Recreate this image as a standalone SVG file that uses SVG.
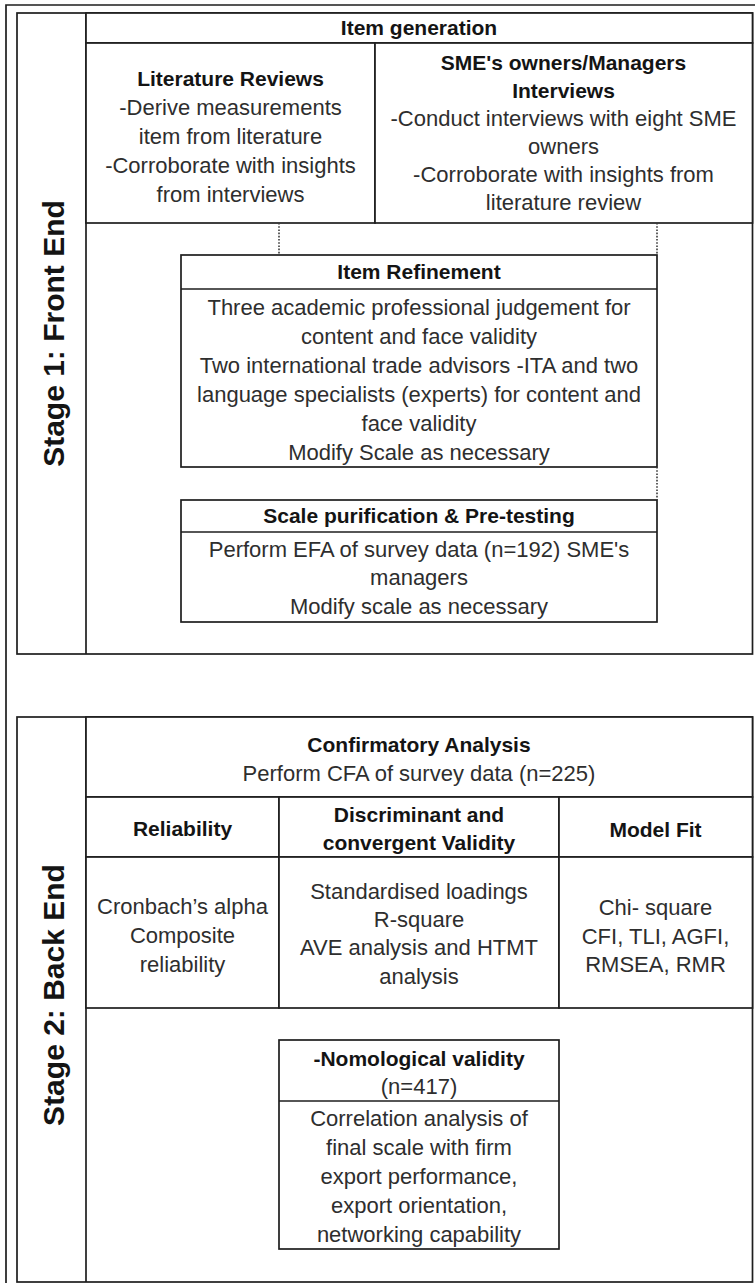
<svg xmlns="http://www.w3.org/2000/svg" width="755" height="1283" viewBox="0 0 755 1283">
<defs>
<style>
.bx{fill:#fff;stroke:#1e1e1e;stroke-width:1.7}
.ln{fill:none;stroke:#1e1e1e;stroke-width:1.7}
.dot{fill:none;stroke:#3a3a3a;stroke-width:1.6;stroke-dasharray:1.6 1.6}
text{font-family:"Liberation Sans",Arial,sans-serif;font-size:22px;fill:#2e2e2e;text-anchor:middle}
.b{font-weight:bold;font-size:21px;fill:#141414}
.stg{font-weight:bold;font-size:30px;fill:#141414}
</style>
</defs>
<rect width="755" height="1283" fill="#fff"/>
<path class="ln" d="M6,1283 V5 H755"/>

<g id="stage1">
<rect class="bx" x="17" y="13" width="735.5" height="641"/>
<line class="ln" x1="86" y1="13" x2="86" y2="654"/>
<text class="stg" transform="translate(64,333.5) rotate(-90)">Stage 1: Front End</text>
</g>

<g id="item-generation">
<rect class="bx" x="86" y="13" width="666.5" height="30"/>
<text class="b" x="419" y="35">Item generation</text>
</g>

<g id="literature-reviews">
<rect class="bx" x="86" y="43" width="289" height="180"/>
<text class="b" x="230.5" y="86">Literature Reviews</text>
<text x="230.5" y="115">-Derive measurements</text>
<text x="230.5" y="144">item from literature</text>
<text x="230.5" y="173">-Corroborate with insights</text>
<text x="230.5" y="202">from interviews</text>
</g>

<g id="sme-interviews">
<rect class="bx" x="375" y="43" width="377.5" height="180"/>
<text class="b" x="563.5" y="70">SME's owners/Managers</text>
<text class="b" x="563.5" y="98">Interviews</text>
<text x="563.5" y="126">-Conduct interviews with eight SME</text>
<text x="563.5" y="154">owners</text>
<text x="563.5" y="182">-Corroborate with insights from</text>
<text x="563.5" y="210">literature review</text>
</g>

<g id="item-refinement">
<rect class="bx" x="181" y="255" width="476" height="212"/>
<line class="ln" x1="181" y1="289" x2="657" y2="289"/>
<text class="b" x="419" y="279">Item Refinement</text>
<text x="419" y="315">Three academic professional judgement for</text>
<text x="419" y="344">content and face validity</text>
<text x="419" y="373">Two international trade advisors -ITA and two</text>
<text x="419" y="402">language specialists (experts) for content and</text>
<text x="419" y="431">face validity</text>
<text x="419" y="460">Modify Scale as necessary</text>
</g>

<g id="scale-purification">
<rect class="bx" x="181" y="500" width="476" height="122"/>
<line class="ln" x1="181" y1="532" x2="657" y2="532"/>
<text class="b" x="419" y="523">Scale purification &amp; Pre-testing</text>
<text x="419" y="557">Perform EFA of survey data (n=192) SME's</text>
<text x="419" y="585">managers</text>
<text x="419" y="614">Modify scale as necessary</text>
</g>

<g id="connectors">
<line class="dot" x1="279" y1="223" x2="279" y2="255"/>
<line class="dot" x1="657" y1="223" x2="657" y2="255"/>
<line class="dot" x1="657" y1="467" x2="657" y2="500"/>
</g>

<g id="stage2">
<rect class="bx" x="17" y="717" width="735.5" height="565"/>
<line class="ln" x1="86" y1="717" x2="86" y2="1282"/>
<text class="stg" transform="translate(64,995) rotate(-90)">Stage 2: Back End</text>
</g>

<g id="confirmatory-analysis">
<rect class="bx" x="86" y="717" width="666.5" height="80"/>
<text class="b" x="419" y="752">Confirmatory Analysis</text>
<text x="419" y="781">Perform CFA of survey data (n=225)</text>
</g>

<g id="reliability">
<rect class="bx" x="86" y="797" width="193" height="60"/>
<rect class="bx" x="86" y="857" width="193" height="151"/>
<text class="b" x="182.5" y="836">Reliability</text>
<text x="182.5" y="914">Cronbach’s alpha</text>
<text x="182.5" y="943">Composite</text>
<text x="182.5" y="972">reliability</text>
</g>

<g id="validity">
<rect class="bx" x="279" y="797" width="280" height="60"/>
<rect class="bx" x="279" y="857" width="280" height="151"/>
<text class="b" x="419" y="822">Discriminant and</text>
<text class="b" x="419" y="850">convergent Validity</text>
<text x="419" y="899">Standardised loadings</text>
<text x="419" y="927">R-square</text>
<text x="419" y="955">AVE analysis and HTMT</text>
<text x="419" y="984">analysis</text>
</g>

<g id="model-fit">
<rect class="bx" x="559" y="797" width="193.5" height="60"/>
<rect class="bx" x="559" y="857" width="193.5" height="151"/>
<text class="b" x="655.5" y="837">Model Fit</text>
<text x="655.5" y="915">Chi- square</text>
<text x="655.5" y="944">CFI, TLI, AGFI,</text>
<text x="655.5" y="972">RMSEA, RMR</text>
</g>

<g id="nomological-validity">
<rect class="bx" x="279" y="1040" width="280" height="209"/>
<line class="ln" x1="279" y1="1101" x2="559" y2="1101"/>
<text class="b" x="419" y="1066">-Nomological validity</text>
<text x="419" y="1094">(n=417)</text>
<text x="419" y="1126">Correlation analysis of</text>
<text x="419" y="1155">final scale with firm</text>
<text x="419" y="1184">export performance,</text>
<text x="419" y="1213">export orientation,</text>
<text x="419" y="1242">networking capability</text>
</g>
</svg>
